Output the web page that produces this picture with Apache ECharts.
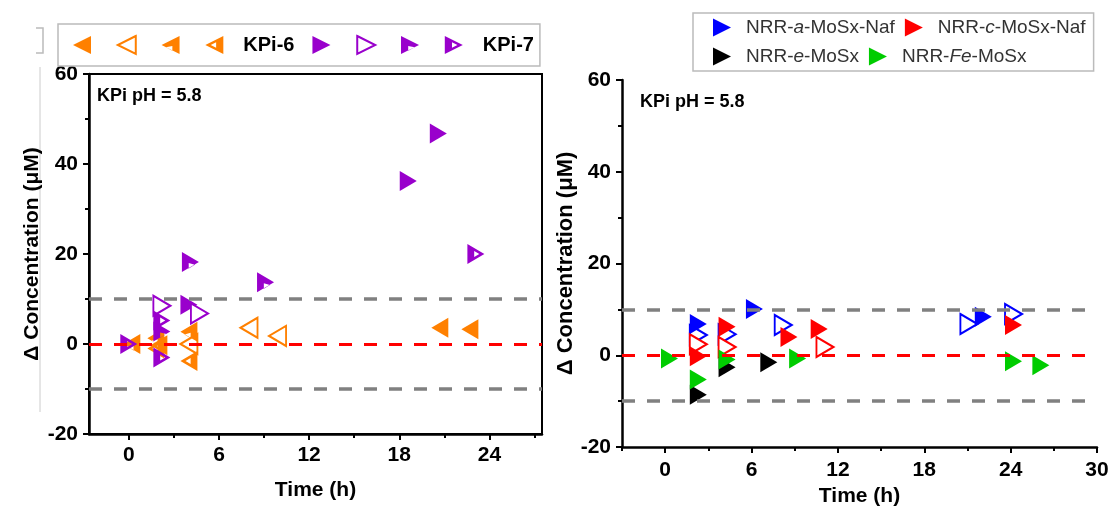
<!DOCTYPE html>
<html>
<head>
<meta charset="utf-8">
<script src="https://cdn.jsdelivr.net/npm/echarts@6/dist/echarts.min.js"></script>
<style>
  html, body { margin: 0; padding: 0; background: #fff; }
  #chart { width: 1112px; height: 507px; }
</style>
</head>
<body>
<div id="chart"></div>
<script>
// left panel: KPi-6 (orange) and KPi-7 (purple), [time h, delta conc uM]
var kpi6Solid = [[20.7, 3.6], [22.7, 3.3]];
var kpi6Open = [[8.0, 3.6], [9.9, 1.8], [4.0, 0.0]];
var kpi6HalfA = [[4.0, 2.7], [0.2, 0.0], [1.8, 1.3]];
var kpi6HalfB = [[4.0, -3.8], [1.8, -1.0], [2.0, -0.3]];
var kpi7Solid = [[18.6, 36.2], [20.6, 46.8], [4.0, 8.7]];
var kpi7Open = [[2.2, 8.5], [4.7, 6.8]];
var kpi7HalfA = [[9.1, 13.7], [2.2, 2.8], [4.1, 18.2]];
var kpi7HalfB = [[23.1, 20.0], [0.0, 0.0], [2.2, 5.2], [2.2, -3.0]];

// right panel
var naSolid = [[2.3, 6.8], [6.2, 10.1], [22.1, 8.4]];
var naOpen = [[2.3, 4.4], [4.3, 4.6], [8.2, 6.6], [21.1, 6.8], [24.2, 9.0]];
var ncSolid = [[2.3, -0.2], [4.3, 6.2], [8.6, 4.0], [10.7, 5.7], [24.2, 6.6]];
var ncOpen = [[2.3, 2.4], [4.3, 1.8], [11.1, 1.8]];
var neData = [[2.3, -8.6], [4.3, -2.6], [7.2, -1.5]];
var nfeData = [[0.3, -0.7], [2.3, -5.3], [4.3, -0.9], [9.2, -0.7], [24.2, -1.3], [26.1, -2.2]];

var xTicks = [0, 6, 12, 18, 24];
var xTicksR = [0, 6, 12, 18, 24, 30];
var xMinor = [3, 9, 15, 21, 27];
var xMinorR = [-3, 3, 9, 15, 21, 27];
var refLines = [10, 0, -10];

var ORANGE = '#ff8000', PURPLE = '#9900cc';
var R_FULL = 'path://M0,0L10,5L0,10Z';
var R_HA = 'path://M0,0L10,5L0,10Z M4,5.5L4,8.2L7.6,6.3Z';
var R_HB = 'path://M0,0L10,5L0,10Z M4,3.5L4,6.5L7,5Z';
var L_FULL = 'path://M10,0L0,5L10,10Z';
var L_HA = 'path://M10,0L0,5L10,10Z M6,5.5L6,8.2L2.4,6.3Z';
var L_HB = 'path://M10,0L0,5L10,10Z M6,3.5L6,6.5L3,5Z';
var FONT = 'Liberation Sans, Arial, sans-serif';

function pts(name, data, xi, sym, color, open) {
    return {
        name: name, type: 'scatter', xAxisIndex: xi, yAxisIndex: xi < 2 ? 0 : 1,
        data: data, symbol: sym, symbolSize: [17, 20], z: 3,
        itemStyle: open ? { color: '#fff', borderColor: color, borderWidth: 2, opacity: 1 } : { color: color, opacity: 1 }
    };
}

function lines(xi) {
    return {
        type: 'scatter', xAxisIndex: xi, yAxisIndex: xi < 2 ? 0 : 1, data: [], z: 1,
        markLine: {
            silent: true, symbol: 'none', label: { show: false }, animation: false,
            data: refLines.map(function (v) {
                return { yAxis: v, lineStyle: { type: [13, 12], width: v === 0 ? 3 : 3.5, color: v === 0 ? '#ff0000' : '#808080', opacity: 1 } };
            })
        }
    };
}

function xMain(grid, min, max, ticks, gap, margin) {
    return {
        type: 'value', gridIndex: grid, min: min, max: max,
        name: 'Time (h)', nameLocation: 'middle', nameGap: gap,
        nameTextStyle: { fontSize: 21, fontWeight: 'bold', color: '#000', fontFamily: FONT },
        axisLine: { onZero: false, lineStyle: { color: '#000', width: 2.5 } },
        axisTick: { customValues: ticks, length: 6, lineStyle: { width: 2, color: '#000' } },
        axisLabel: { customValues: ticks, margin: margin, fontSize: 21, fontWeight: 'bold', color: '#000', fontFamily: FONT },
        splitLine: { show: false }
    };
}
function xMinorAxis(grid, min, max, ticks) {
    return {
        type: 'value', gridIndex: grid, min: min, max: max, position: 'bottom',
        axisLine: { show: false, onZero: false },
        axisTick: { customValues: ticks, length: 4, lineStyle: { width: 2, color: '#000' } },
        axisLabel: { show: false }, splitLine: { show: false }
    };
}
function yAxis(grid, gap, nameSize) {
    return {
        type: 'value', gridIndex: grid, min: -20, max: 60, interval: 20,
        name: 'Δ Concentration (μM)', nameLocation: 'middle', nameGap: gap,
        nameTextStyle: { fontSize: nameSize, fontWeight: 'bold', color: '#000', fontFamily: FONT },
        axisLine: { onZero: false, lineStyle: { color: '#000', width: 2.5 } },
        axisTick: { length: 6, lineStyle: { width: 2, color: '#000' } },
        minorTick: { show: true, splitNumber: 2, length: 4, lineStyle: { width: 2, color: '#000' } },
        axisLabel: { margin: 11, fontSize: 21, fontWeight: 'bold', color: '#000', fontFamily: FONT },
        splitLine: { show: false }, minorSplitLine: { show: false }
    };
}

var leftNames = ['KPi-6 a', 'KPi-6 b', 'KPi-6 c', 'KPi-6 d', 'KPi-7 a', 'KPi-7 b', 'KPi-7 c', 'KPi-7 d'];
var rightNames = ['NRR-a-MoSx-Naf', 'NRR-c-MoSx-Naf', 'NRR-e-MoSx', 'NRR-Fe-MoSx'];
var rightLabels = {
    'NRR-a-MoSx-Naf': '{p| }NRR-{i|a}-MoSx-Naf',
    'NRR-c-MoSx-Naf': '{p| }NRR-{i|c}-MoSx-Naf',
    'NRR-e-MoSx': '{p| }NRR-{i|e}-MoSx',
    'NRR-Fe-MoSx': '{p| }NRR-{i|Fe}-MoSx'
};

var option = {
    backgroundColor: '#fff',
    animation: false,
    grid: [
        { left: 89, top: 74, width: 453, height: 360, outerBoundsMode: 'none', show: true, borderColor: '#000', borderWidth: 2, backgroundColor: 'transparent' },
        { left: 622, top: 80, width: 475, height: 367, outerBoundsMode: 'none' }
    ],
    xAxis: [
        xMain(0, -2.65, 27.5, xTicks, 46, 11),
        xMinorAxis(0, -2.65, 27.5, xMinor),
        xMain(1, -3, 30, xTicksR, 38, 13),
        xMinorAxis(1, -3, 30, xMinorR)
    ],
    yAxis: [yAxis(0, 46, 21), yAxis(1, 36, 22)],
    legend: [
        {
            data: leftNames, left: 58, top: 24, orient: 'horizontal',
            padding: [11, 6, 11, 15], itemGap: 18, itemWidth: 18, itemHeight: 20,
            borderColor: '#bbbbbb', borderWidth: 1.5,
            formatter: function (n) {
                if (n === 'KPi-6 d') return '{t|KPi-6}';
                if (n === 'KPi-7 d') return '{t|KPi-7}';
                return '{e| }';
            },
            textStyle: {
                rich: {
                    t: { fontSize: 20, fontWeight: 'bold', color: '#000', fontFamily: FONT, padding: [0, 0, 0, 15] },
                    e: { width: 5, fontSize: 10 }
                }
            }
        },
        {
            data: rightNames, left: 693, top: 13, width: 385, orient: 'horizontal',
            padding: [5, 8, 5, 20], itemGap: 10, itemWidth: 18, itemHeight: 20,
            borderColor: '#bbbbbb', borderWidth: 1.5,
            formatter: function (n) { return rightLabels[n]; },
            textStyle: {
                fontSize: 19, color: '#333', fontFamily: FONT,
                rich: {
                    p: { width: 10, fontSize: 19 },
                    i: { fontSize: 19, fontStyle: 'italic', color: '#333', fontFamily: FONT }
                }
            }
        }
    ],
    graphic: [
        { type: 'text', left: 97, top: 87, style: { text: 'KPi pH = 5.8', font: 'bold 18px ' + FONT, fill: '#000' } },
        { type: 'text', left: 640, top: 93, style: { text: 'KPi pH = 5.8', font: 'bold 18px ' + FONT, fill: '#000' } },
        { type: 'line', shape: { x1: 40, y1: 67, x2: 40, y2: 412 }, style: { stroke: '#cccccc', lineWidth: 1 } },
        { type: 'polyline', shape: { points: [[36, 28], [43, 28], [43, 53], [36, 53]] }, style: { stroke: '#bbbbbb', lineWidth: 1.5, fill: null } }
    ],
    series: [
        lines(0),
        pts('KPi-6 a', kpi6Solid, 0, L_FULL, ORANGE, false),
        pts('KPi-6 b', kpi6Open, 0, L_FULL, ORANGE, true),
        pts('KPi-6 c', kpi6HalfA, 0, L_HA, ORANGE, false),
        pts('KPi-6 d', kpi6HalfB, 0, L_HB, ORANGE, false),
        pts('KPi-7 a', kpi7Solid, 0, R_FULL, PURPLE, false),
        pts('KPi-7 b', kpi7Open, 0, R_FULL, PURPLE, true),
        pts('KPi-7 c', kpi7HalfA, 0, R_HA, PURPLE, false),
        pts('KPi-7 d', kpi7HalfB, 0, R_HB, PURPLE, false),
        lines(2),
        pts('a open', naOpen, 2, R_FULL, '#0000ff', true),
        pts('c open', ncOpen, 2, R_FULL, '#ff0000', true),
        pts('NRR-a-MoSx-Naf', naSolid, 2, R_FULL, '#0000ff', false),
        pts('NRR-c-MoSx-Naf', ncSolid, 2, R_FULL, '#ff0000', false),
        pts('NRR-e-MoSx', neData, 2, R_FULL, '#000000', false),
        pts('NRR-Fe-MoSx', nfeData, 2, R_FULL, '#00cc00', false)
    ]
};

var chart = echarts.init(document.getElementById('chart'), null, { renderer: 'canvas' });
chart.setOption(option);
</script>
</body>
</html>
